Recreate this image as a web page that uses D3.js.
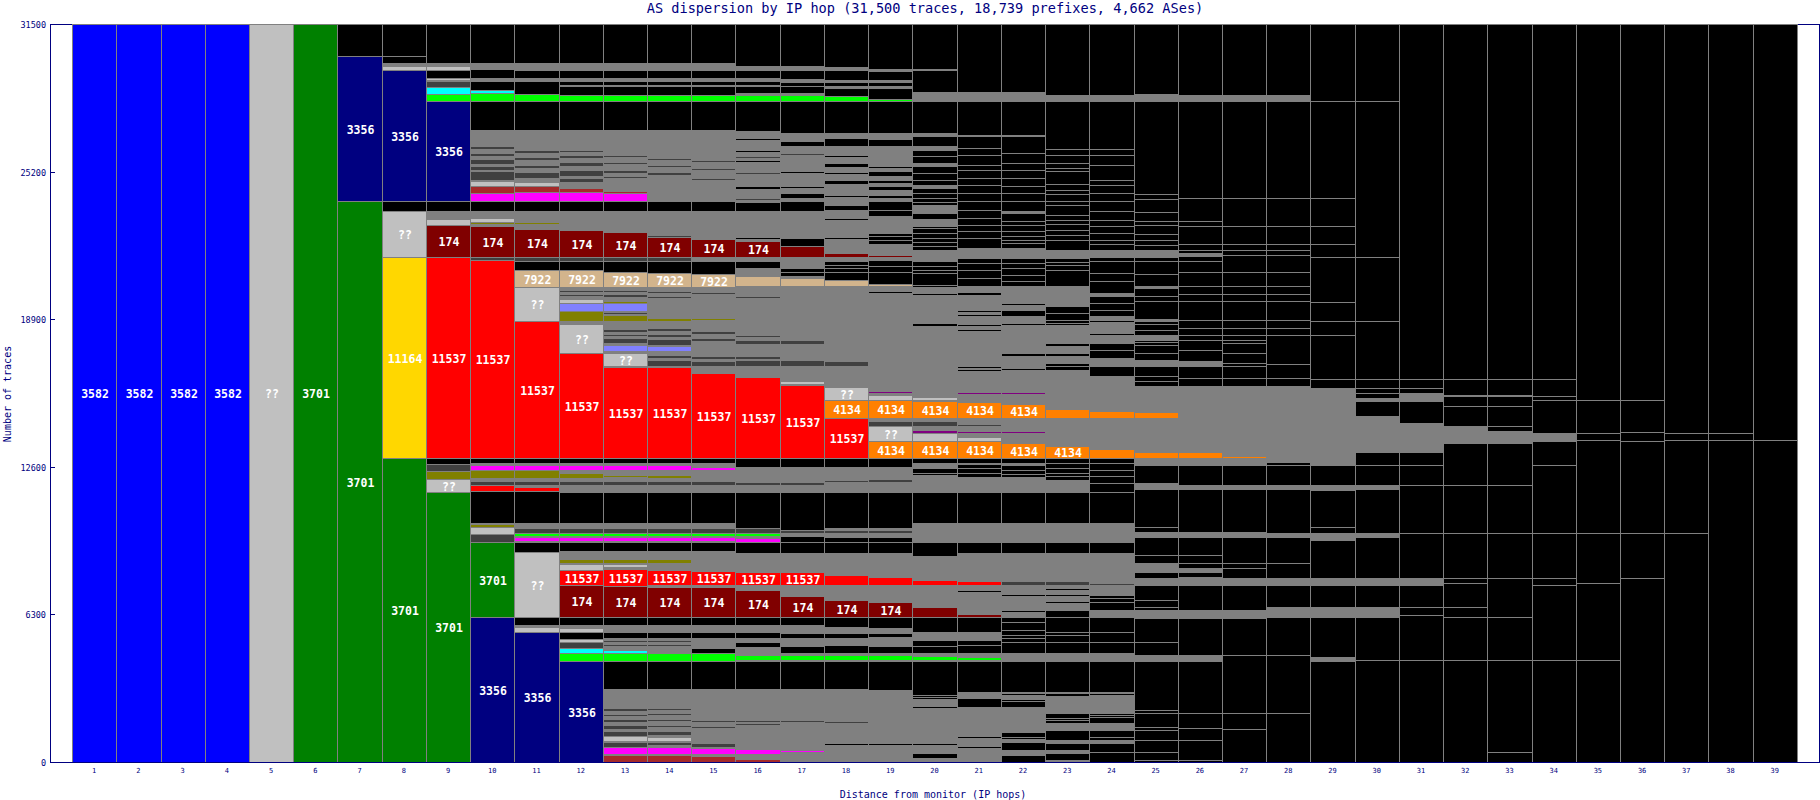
<!DOCTYPE html>
<html><head><meta charset="utf-8">
<script src="https://cdn.jsdelivr.net/npm/d3@7"></script>
<style>body{margin:0;background:#fff}svg{display:block}</style>
</head><body>
<svg id="c" width="1820" height="800"></svg>
<script>
const chartTitle = "AS dispersion by IP hop (31,500 traces, 18,739 prefixes, 4,662 ASes)";
const xTitle = "Distance from monitor (IP hops)";
const yTitle = "Number of traces";
const yTicks = [0, 6300, 12600, 18900, 25200, 31500];
const hopNumbers = d3.range(1, 40);

// each hop: segments from top to bottom, [cumulative count at segment top, AS key, label]
const hop1 = [[31500,'B','3582']];
const hop2 = [[31500,'B','3582']];
const hop3 = [[31500,'B','3582']];
const hop4 = [[31500,'B','3582']];
const hop5 = [[31500,'L','??']];
const hop6 = [[31500,'G','3701']];
const hop7 = [[31500,'K'],[30132,'N','3356'],[23960,'G','3701']];
const hop8 = [[31500,'K'],[30153,'K'],[29842,'Z'],[29696,'L'],[29525,'N','3356'],[23960,'K'],[23503,'L','??'],[21556,'Y','11164'],[12971,'G','3701']];
const hop9 = [[31500,'K'],[29842,'Z'],[29696,'L'],[29555,'K'],[29201,'L'],[29098,'Z'],[29056,'D'],[28800,'C'],[28530,'E'],[28201,'N','3356'],[23960,'K'],[23533,'Z'],[23192,'L'],[22905,'M','174'],[21556,'R','11537'],[12971,'K'],[12728,'D'],[12442,'V'],[12087,'L','??'],[11545,'G','3701']];
const hop10 = [[31500,'K'],[29842,'Z'],[29585,'K'],[29201,'Z'],[29056,'K'],[28688,'C'],[28560,'E'],[28201,'K'],[26993,'Z'],[26279,'D'],[26182,'Z'],[25998,'D'],[25852,'Z'],[25724,'D'],[25528,'Z'],[25455,'D'],[25284,'Z'],[25242,'D'],[24857,'Z'],[24815,'L'],[24601,'A'],[24289,'P'],[23960,'K'],[23503,'Z'],[23234,'L'],[23034,'V'],[22948,'Z'],[22863,'M','174'],[21556,'D'],[21411,'R','11537'],[12971,'K'],[12757,'Z'],[12685,'P'],[12471,'V'],[12117,'Z'],[12014,'D'],[11831,'R'],[11587,'K'],[10195,'Z'],[10152,'V'],[10050,'L'],[9738,'D'],[9409,'G','3701'],[6170,'N','3356']];
const hop11 = [[31500,'K'],[29842,'Z'],[29555,'K'],[29201,'Z'],[29056,'K'],[28530,'E'],[28201,'K'],[26993,'Z'],[26139,'D'],[26010,'Z'],[25840,'D'],[25711,'Z'],[25498,'D'],[25370,'Z'],[25199,'D'],[24943,'Z'],[24742,'L'],[24601,'A'],[24315,'P'],[23960,'K'],[23533,'Z'],[23034,'V'],[22948,'Z'],[22764,'M','174'],[21556,'D'],[21368,'K'],[20983,'T','7922'],[20257,'L','??'],[18805,'R','11537'],[12971,'K'],[12757,'Z'],[12685,'P'],[12471,'V'],[12117,'Z'],[12014,'D'],[11831,'Z'],[11733,'R'],[11587,'K'],[10195,'Z'],[10007,'D'],[9768,'E'],[9665,'Z'],[9623,'P'],[9452,'Z'],[9409,'K'],[8982,'L','??'],[6170,'K'],[5851,'Z'],[5753,'L'],[5565,'N','3356']];
const hop12 = [[31500,'K'],[29842,'Z'],[29555,'K'],[29201,'Z'],[29056,'K'],[28915,'Z'],[28842,'K'],[28488,'E'],[28201,'K'],[26993,'Z'],[26139,'D'],[26053,'Z'],[25925,'D'],[25797,'Z'],[25626,'D'],[25455,'Z'],[25284,'D'],[25028,'Z'],[24943,'D'],[24772,'Z'],[24503,'A'],[24315,'P'],[23960,'K'],[23533,'Z'],[23008,'V'],[22948,'Z'],[22722,'M','174'],[21556,'D'],[21368,'K'],[20983,'T','7922'],[20257,'Z'],[20160,'D'],[20074,'Z'],[19988,'D'],[19903,'Z'],[19775,'L'],[19591,'I'],[19232,'V'],[18835,'Z'],[18707,'L','??'],[17468,'R','11537'],[12971,'K'],[12757,'Z'],[12685,'P'],[12471,'Z'],[12356,'V'],[12117,'Z'],[12002,'D'],[11831,'Z'],[11545,'K'],[10195,'Z'],[10007,'D'],[9768,'E'],[9665,'Z'],[9623,'P'],[9452,'Z'],[9409,'K'],[9012,'Z'],[8670,'V'],[8487,'Z'],[8457,'L'],[8213,'R','11537'],[7547,'M','174'],[6170,'K'],[5851,'Z'],[5736,'L'],[5565,'K'],[5253,'L'],[5138,'D'],[4882,'C'],[4643,'E'],[4327,'N','3356']];
const hop13 = [[31500,'K'],[29842,'Z'],[29555,'K'],[29201,'Z'],[29056,'K'],[28915,'Z'],[28842,'K'],[28488,'E'],[28201,'K'],[26993,'Z'],[25925,'D'],[25810,'Z'],[25626,'D'],[25541,'Z'],[25284,'D'],[25156,'Z'],[25028,'D'],[24943,'Z'],[24387,'A'],[24289,'P'],[23960,'K'],[23533,'Z'],[23008,'V'],[22948,'Z'],[22636,'M','174'],[21556,'D'],[21368,'K'],[20898,'T','7922'],[20257,'Z'],[20160,'D'],[20074,'Z'],[19988,'D'],[19860,'Z'],[19659,'V'],[19591,'I'],[19262,'Z'],[19207,'D'],[19121,'Z'],[19062,'V'],[18835,'Z'],[18480,'D'],[18365,'Z'],[18280,'D'],[18194,'Z'],[18109,'D'],[17895,'Z'],[17797,'I'],[17524,'Z'],[17438,'L','??'],[16913,'Z'],[16870,'R','11537'],[12971,'K'],[12757,'Z'],[12685,'P'],[12471,'Z'],[12258,'V'],[12160,'Z'],[12002,'D'],[11831,'Z'],[11545,'K'],[10195,'Z'],[10007,'D'],[9768,'E'],[9665,'Z'],[9623,'P'],[9452,'Z'],[9409,'K'],[9012,'Z'],[8670,'V'],[8487,'Z'],[8457,'L'],[8341,'Z'],[8230,'R','11537'],[7530,'M','174'],[6170,'K'],[5851,'Z'],[5565,'K'],[5283,'Z'],[5211,'D'],[5125,'Z'],[5040,'D'],[4954,'Z'],[4784,'C'],[4668,'Z'],[4643,'E'],[4327,'K'],[3118,'Z'],[2294,'D'],[2178,'Z'],[2050,'D'],[1965,'Z'],[1837,'D'],[1708,'Z'],[1580,'D'],[1409,'Z'],[1324,'D'],[1110,'L'],[910,'Z'],[867,'D'],[653,'Z'],[628,'P'],[342,'Z'],[299,'A']];
const hop14 = [[31500,'K'],[29842,'Z'],[29555,'K'],[29201,'Z'],[29056,'K'],[28915,'Z'],[28842,'K'],[28488,'E'],[28201,'K'],[26993,'Z'],[25797,'D'],[25711,'Z'],[25498,'D'],[25412,'Z'],[25199,'D'],[25071,'Z'],[24144,'P'],[24101,'Z'],[23960,'K'],[23533,'Z'],[23008,'V'],[22948,'Z'],[22508,'D'],[22423,'M','174'],[21556,'D'],[21368,'K'],[20872,'T','7922'],[20257,'Z'],[20117,'D'],[20031,'Z'],[19903,'D'],[19817,'Z'],[18950,'V'],[18835,'Z'],[18523,'D'],[18408,'Z'],[18280,'D'],[18152,'Z'],[18066,'D'],[17810,'Z'],[17738,'I'],[17524,'Z'],[17383,'D'],[17255,'Z'],[17169,'D'],[16913,'Z'],[16870,'R','11537'],[12971,'K'],[12757,'Z'],[12685,'P'],[12471,'Z'],[12258,'V'],[12117,'Z'],[12002,'D'],[11831,'Z'],[11545,'K'],[10195,'Z'],[10007,'D'],[9768,'E'],[9665,'Z'],[9623,'P'],[9452,'Z'],[9409,'K'],[9012,'Z'],[8670,'V'],[8487,'Z'],[8200,'R','11537'],[7560,'Z'],[7487,'M','174'],[6170,'K'],[5851,'Z'],[5565,'K'],[5283,'Z'],[5211,'D'],[5125,'Z'],[5040,'D'],[4954,'Z'],[4643,'E'],[4327,'K'],[3118,'Z'],[2294,'D'],[2221,'Z'],[2093,'D'],[2007,'Z'],[1837,'D'],[1751,'Z'],[1580,'D'],[1495,'Z'],[1324,'D'],[1153,'Z'],[1055,'L'],[910,'Z'],[867,'D'],[726,'Z'],[628,'P'],[342,'Z'],[299,'A']];
const hop15 = [[31500,'K'],[29842,'Z'],[29555,'K'],[29201,'Z'],[29056,'K'],[28915,'Z'],[28842,'K'],[28475,'E'],[28201,'K'],[26993,'Z'],[25711,'D'],[25626,'Z'],[25370,'D'],[25284,'Z'],[24943,'D'],[24857,'Z'],[23960,'K'],[23533,'Z'],[22324,'M','174'],[21556,'Z'],[21368,'K'],[20842,'T','7922'],[20257,'Z'],[20074,'D'],[19988,'Z'],[18950,'V'],[18878,'Z'],[18378,'D'],[18280,'Z'],[18109,'D'],[17981,'Z'],[17340,'D'],[17212,'Z'],[17127,'D'],[16883,'Z'],[16601,'R','11537'],[12971,'K'],[12757,'Z'],[12587,'P'],[12471,'Z'],[12002,'D'],[11831,'Z'],[11545,'K'],[10195,'Z'],[10007,'D'],[9768,'E'],[9665,'Z'],[9623,'P'],[9452,'Z'],[9409,'K'],[9012,'Z'],[8158,'R','11537'],[7560,'Z'],[7461,'M','174'],[6170,'K'],[5851,'Z'],[5565,'K'],[5283,'Z'],[4869,'K'],[4643,'E'],[4327,'K'],[3118,'Z'],[1794,'D'],[1708,'Z'],[1538,'D'],[1452,'Z'],[940,'L'],[897,'Z'],[799,'D'],[653,'Z'],[585,'P'],[342,'Z'],[269,'A']];
const hop16 = [[31500,'K'],[29696,'Z'],[29525,'K'],[29201,'Z'],[29056,'K'],[28915,'Z'],[28842,'K'],[28560,'Z'],[28475,'E'],[28218,'K'],[26920,'Z'],[26651,'K'],[26565,'Z'],[26139,'K'],[26053,'Z'],[25883,'D'],[25797,'Z'],[25711,'K'],[25626,'Z'],[25178,'D'],[25093,'Z'],[24601,'K'],[24473,'Z'],[24088,'D'],[24003,'Z'],[23918,'K'],[23533,'Z'],[22401,'K'],[22316,'Z'],[22222,'M','174'],[21556,'Z'],[21368,'K'],[21086,'Z'],[20728,'T'],[20300,'Z'],[19873,'D'],[19815,'Z'],[19134,'D'],[19091,'Z'],[18237,'D'],[18152,'Z'],[18024,'D'],[17853,'Z'],[17310,'D'],[17212,'Z'],[17169,'D'],[16913,'Z'],[16486,'L'],[16414,'R','11537'],[12971,'K'],[12612,'Z'],[11972,'D'],[11831,'Z'],[11545,'K'],[9981,'D'],[9768,'E'],[9652,'Z'],[9554,'P'],[9409,'K'],[8939,'Z'],[8563,'V'],[8521,'Z'],[8128,'R','11537'],[7560,'Z'],[7346,'M','174'],[6170,'K'],[5851,'Z'],[5565,'K'],[5283,'Z'],[5138,'K'],[4924,'Z'],[4570,'E'],[4356,'Z'],[4327,'K'],[3118,'Z'],[2294,'D'],[2242,'Z'],[2093,'D'],[2050,'Z'],[1794,'D'],[1708,'Z'],[1644,'D'],[1580,'Z'],[1239,'D'],[1175,'Z'],[555,'P'],[342,'Z'],[115,'A']];
const hop17 = [[31500,'K'],[29696,'Z'],[29525,'K'],[29171,'Z'],[29030,'K'],[28842,'K'],[28560,'Z'],[28475,'E'],[28218,'K'],[26852,'Z'],[26493,'K'],[26309,'Z'],[25998,'D'],[25925,'Z'],[25212,'K'],[25143,'Z'],[24571,'K'],[24486,'Z'],[24289,'K'],[24076,'Z'],[23931,'K'],[23503,'Z'],[22367,'K'],[22009,'M'],[21556,'Z'],[21086,'K'],[20898,'K'],[20728,'Z'],[20659,'T'],[20300,'Z'],[19121,'D'],[19079,'Z'],[18194,'D'],[18139,'Z'],[18024,'D'],[17853,'Z'],[17140,'D'],[16913,'Z'],[16243,'L'],[16144,'Z'],[16102,'R','11537'],[12971,'K'],[12612,'Z'],[11972,'D'],[11831,'Z'],[11545,'K'],[9909,'D'],[9793,'Z'],[9695,'E'],[9652,'K'],[9409,'K'],[8939,'Z'],[8542,'V'],[8499,'Z'],[8128,'R','11537'],[7560,'Z'],[7090,'M','174'],[6170,'K'],[5851,'Z'],[5522,'K'],[5283,'Z'],[4954,'K'],[4643,'Z'],[4570,'E'],[4356,'Z'],[4327,'K'],[3118,'Z'],[2093,'D'],[2050,'Z'],[1794,'D'],[1721,'Z'],[1239,'D'],[1196,'Z'],[491,'P'],[440,'Z']];
const hop18 = [[31500,'K'],[29670,'K'],[29628,'Z'],[29525,'K'],[29128,'Z'],[29030,'K'],[28842,'Z'],[28774,'K'],[28415,'E'],[28218,'K'],[26852,'Z'],[26638,'K'],[26279,'Z'],[25925,'K'],[25840,'Z'],[25583,'K'],[25412,'Z'],[25199,'K'],[25113,'Z'],[24857,'K'],[24686,'Z'],[24217,'K'],[24131,'Z'],[23789,'K'],[23576,'Z'],[23234,'K'],[23149,'Z'],[22401,'K'],[22316,'Z'],[21727,'M'],[21556,'Z'],[21368,'K'],[21227,'K'],[21086,'K'],[20928,'K'],[20586,'T'],[20300,'Z'],[20074,'K'],[20031,'Z'],[19134,'D'],[19091,'Z'],[17097,'D'],[16913,'Z'],[16003,'L','??'],[15431,'O','4134'],[14679,'R','11537'],[12971,'K'],[12612,'Z'],[12044,'D'],[11972,'Z'],[11545,'K'],[9981,'Z'],[9909,'D'],[9793,'Z'],[9695,'E'],[9665,'Z'],[9623,'K'],[9409,'K'],[8939,'Z'],[7987,'R'],[7560,'Z'],[6919,'M','174'],[6170,'K'],[5753,'Z'],[5522,'K'],[5283,'Z'],[4984,'K'],[4643,'Z'],[4570,'E'],[4356,'Z'],[4327,'K'],[3118,'Z'],[2563,'K'],[2507,'Z'],[1730,'D'],[1666,'Z'],[1239,'D'],[1175,'Z'],[790,'K'],[726,'Z'],[598,'K'],[534,'Z']];
const hop19 = [[31500,'K'],[29585,'Z'],[29513,'K'],[29128,'Z'],[29013,'K'],[28872,'Z'],[28774,'K'],[28317,'E'],[28218,'K'],[26852,'Z'],[26596,'K'],[26279,'Z'],[25425,'K'],[25357,'Z'],[25212,'K'],[24998,'Z'],[24857,'K'],[24716,'Z'],[24571,'K'],[24430,'Z'],[24217,'K'],[24076,'Z'],[23931,'K'],[23576,'K'],[23320,'Z'],[22764,'K'],[22700,'Z'],[22594,'K'],[22436,'K'],[22295,'K'],[22124,'Z'],[21624,'M'],[21556,'Z'],[21440,'K'],[21184,'K'],[20928,'K'],[20403,'T'],[20300,'Z'],[20117,'K'],[20031,'Z'],[16969,'D'],[16926,'Z'],[15845,'U'],[15747,'Z'],[15675,'L'],[15431,'O','4134'],[14679,'Z'],[14534,'D'],[14351,'Z'],[14321,'L','??'],[13710,'Z'],[13680,'O','4134'],[12971,'K'],[12612,'Z'],[12343,'K'],[12279,'Z'],[12066,'D'],[11972,'Z'],[11545,'K'],[9981,'Z'],[9909,'D'],[9793,'Z'],[9623,'K'],[9409,'K'],[8939,'Z'],[7914,'R'],[7560,'Z'],[6834,'M','174'],[6170,'K'],[5723,'Z'],[5522,'K'],[5352,'Z'],[4954,'K'],[4643,'Z'],[4570,'E'],[4356,'Z'],[4327,'K'],[3075,'Z'],[2563,'K'],[2507,'Z'],[2370,'K'],[2328,'Z'],[1239,'K'],[1175,'Z'],[790,'K'],[726,'Z'],[427,'K'],[363,'Z']];
const hop20 = [[31500,'K'],[29585,'Z'],[29525,'K'],[28586,'Z'],[28201,'K'],[26852,'Z'],[26707,'K'],[26279,'Z'],[26139,'K'],[25852,'K'],[25570,'Z'],[25425,'K'],[25143,'K'],[24857,'K'],[24644,'Z'],[24503,'K'],[24289,'K'],[24076,'K'],[23918,'K'],[23789,'Z'],[23435,'K'],[23179,'Z'],[22863,'K'],[22794,'K'],[22581,'K'],[22367,'K'],[22180,'K'],[22009,'K'],[21868,'Z'],[21368,'K'],[21154,'K'],[21013,'K'],[20872,'K'],[20373,'K'],[20257,'Z'],[20031,'K'],[19946,'Z'],[19177,'K'],[19134,'Z'],[18737,'K'],[18622,'Z'],[16700,'K'],[16635,'Z'],[15888,'U'],[15816,'Z'],[15675,'U'],[15602,'Z'],[15576,'L'],[15461,'Z'],[15388,'O','4134'],[14679,'Z'],[14534,'D'],[14351,'Z'],[14150,'U'],[14039,'L'],[13710,'Z'],[13680,'O','4134'],[12971,'K'],[12757,'Z'],[12544,'K'],[12343,'K'],[12258,'Z'],[11545,'K'],[10195,'Z'],[9409,'K'],[8798,'Z'],[7773,'R'],[7560,'Z'],[6633,'M'],[6170,'K'],[5565,'Z'],[5211,'K'],[4954,'K'],[4643,'Z'],[4540,'E'],[4356,'Z'],[4327,'K'],[2862,'K'],[2776,'K'],[2691,'Z'],[2392,'K'],[2306,'Z'],[1935,'K'],[1879,'Z'],[1239,'K'],[1175,'Z'],[867,'K'],[811,'K'],[726,'Z'],[363,'K'],[171,'Z']];
const hop21 = [[31500,'K'],[28586,'Z'],[28201,'K'],[26779,'Z'],[26707,'K'],[26211,'K'],[25925,'K'],[25498,'K'],[25284,'K'],[24930,'K'],[24644,'K'],[24289,'K'],[23931,'K'],[23576,'K'],[23222,'K'],[22935,'K'],[22649,'K'],[22367,'K'],[21940,'Z'],[21513,'K'],[21312,'K'],[21013,'K'],[20672,'K'],[20300,'Z'],[20074,'K'],[19946,'Z'],[19305,'K'],[19220,'Z'],[19113,'K'],[19049,'Z'],[18686,'K'],[18622,'Z'],[18472,'K'],[18408,'Z'],[16913,'K'],[16828,'Z'],[16764,'K'],[16700,'Z'],[15773,'U'],[15717,'Z'],[15632,'U'],[15576,'Z'],[15346,'O','4134'],[14679,'Z'],[14436,'D'],[14351,'Z'],[14107,'U'],[14039,'Z'],[13966,'U'],[13894,'Z'],[13851,'L'],[13710,'Z'],[13680,'O','4134'],[12971,'K'],[12757,'Z'],[12715,'K'],[12557,'K'],[12343,'K'],[12185,'Z'],[11545,'K'],[10195,'Z'],[9409,'K'],[8914,'Z'],[7743,'R'],[7560,'Z'],[7346,'K'],[7274,'Z'],[7060,'K'],[6992,'Z'],[6846,'K'],[6791,'Z'],[6633,'K'],[6577,'Z'],[6321,'M'],[6170,'K'],[5565,'Z'],[5211,'K'],[4984,'K'],[4643,'Z'],[4497,'E'],[4356,'Z'],[4327,'K'],[3003,'Z'],[2721,'K'],[2362,'Z'],[2106,'K'],[2050,'Z'],[1239,'K'],[1196,'Z'],[1098,'K'],[1038,'Z'],[824,'K'],[769,'Z'],[671,'K'],[611,'Z']];
const hop22 = [[31500,'K'],[28586,'Z'],[28231,'K'],[26779,'Z'],[26707,'K'],[25998,'K'],[25570,'K'],[25284,'K'],[24930,'K'],[24571,'K'],[24289,'K'],[23931,'K'],[23503,'Z'],[23435,'K'],[23076,'K'],[22935,'K'],[22649,'K'],[22436,'K'],[22295,'K'],[22154,'K'],[21940,'Z'],[21513,'K'],[21312,'K'],[21086,'K'],[20800,'K'],[20514,'K'],[20300,'Z'],[19591,'K'],[19518,'Z'],[19305,'K'],[19019,'Z'],[18878,'K'],[18814,'Z'],[18737,'K'],[18664,'Z'],[17767,'K'],[17703,'Z'],[17456,'K'],[17310,'Z'],[16956,'K'],[16892,'Z'],[16815,'K'],[16742,'Z'],[15773,'U'],[15717,'Z'],[15632,'U'],[15576,'Z'],[15290,'O','4134'],[14679,'Z'],[14393,'D'],[14321,'Z'],[14107,'U'],[14039,'Z'],[13838,'U'],[13782,'Z'],[13612,'O','4134'],[12971,'K'],[12757,'Z'],[12685,'K'],[12471,'K'],[12300,'K'],[12185,'Z'],[11545,'K'],[10195,'Z'],[9409,'K'],[8914,'Z'],[7743,'D'],[7560,'Z'],[7432,'K'],[7367,'Z'],[7154,'K'],[7090,'Z'],[6876,'K'],[6812,'Z'],[6492,'K'],[6419,'Z'],[6236,'M'],[6170,'K'],[5992,'K'],[5638,'K'],[5424,'K'],[5283,'K'],[5138,'K'],[4643,'Z'],[4399,'E'],[4356,'Z'],[4327,'K'],[3003,'Z'],[2947,'K'],[2862,'Z'],[2691,'K'],[2618,'K'],[2362,'Z'],[1294,'K'],[1081,'Z'],[1055,'K'],[982,'Z'],[867,'K'],[513,'Z'],[299,'K']];
const hop23 = [[31500,'K'],[28488,'Z'],[28201,'K'],[26168,'K'],[25925,'K'],[25583,'K'],[25370,'K'],[25212,'K'],[24673,'K'],[24430,'K'],[24245,'K'],[23931,'K'],[23789,'K'],[23362,'K'],[23149,'K'],[22965,'K'],[22722,'K'],[22508,'K'],[22295,'K'],[21868,'Z'],[21513,'K'],[21355,'K'],[21227,'K'],[21013,'K'],[20300,'Z'],[19446,'K'],[19177,'K'],[18878,'K'],[18737,'K'],[18664,'Z'],[17883,'K'],[17738,'Z'],[17456,'K'],[17310,'Z'],[17029,'K'],[16883,'K'],[16742,'Z'],[15653,'U'],[15611,'Z'],[15512,'U'],[15470,'Z'],[15064,'O'],[14679,'Z'],[13988,'U'],[13945,'Z'],[13804,'U'],[13762,'Z'],[13496,'O','4134'],[12971,'K'],[12757,'K'],[12557,'K'],[12343,'K'],[12215,'K'],[12044,'Z'],[11545,'K'],[10195,'Z'],[9409,'K'],[8914,'Z'],[7743,'D'],[7560,'Z'],[7432,'K'],[7346,'Z'],[7154,'K'],[7090,'Z'],[6876,'K'],[6791,'Z'],[6492,'K'],[6170,'K'],[5565,'K'],[5424,'K'],[5138,'K'],[4643,'Z'],[4327,'K'],[3003,'Z'],[2947,'K'],[2819,'Z'],[2080,'K'],[1879,'K'],[1772,'K'],[1666,'Z'],[1367,'K'],[940,'Z'],[824,'K'],[513,'Z'],[372,'K'],[85,'Z']];
const hop24 = [[31500,'K'],[28488,'Z'],[28201,'K'],[26168,'K'],[25925,'K'],[25498,'K'],[24857,'K'],[24644,'K'],[24289,'K'],[23931,'K'],[23503,'K'],[23149,'K'],[22863,'K'],[22581,'K'],[22295,'K'],[22124,'K'],[21868,'Z'],[21556,'K'],[21368,'K'],[20872,'K'],[20514,'K'],[20018,'Z'],[19873,'K'],[19591,'K'],[19305,'K'],[19019,'Z'],[18878,'K'],[18793,'Z'],[18310,'K'],[18237,'Z'],[17883,'K'],[17597,'K'],[17242,'Z'],[16883,'K'],[16486,'Z'],[15653,'U'],[15611,'Z'],[14961,'O'],[14679,'Z'],[13945,'U'],[13902,'Z'],[13774,'U'],[13731,'Z'],[13355,'O'],[12971,'K'],[12757,'K'],[12471,'K'],[12215,'K'],[11916,'K'],[11545,'K'],[10195,'Z'],[9409,'K'],[8914,'Z'],[7658,'D'],[7560,'Z'],[7133,'K'],[7004,'K'],[6834,'K'],[6492,'Z'],[6170,'K'],[5565,'K'],[5138,'K'],[4643,'Z'],[4327,'K'],[3003,'Z'],[2926,'K'],[2862,'Z'],[2080,'K'],[2007,'K'],[1922,'K'],[1666,'Z'],[1367,'K'],[1068,'K'],[940,'Z'],[824,'K'],[406,'K']];
const hop25 = [[31500,'K'],[28530,'Z'],[28201,'K'],[24259,'K'],[24046,'K'],[23478,'K'],[23106,'K'],[22905,'K'],[22538,'K'],[22295,'K'],[22082,'K'],[21868,'Z'],[21556,'K'],[21368,'K'],[20842,'K'],[20300,'Z'],[20232,'K'],[19873,'K'],[19659,'K'],[18921,'Z'],[18805,'K'],[18707,'K'],[18451,'K'],[18237,'Z'],[18024,'K'],[17908,'K'],[17810,'K'],[17456,'K'],[17169,'Z'],[16883,'K'],[16456,'K'],[16243,'K'],[16029,'Z'],[14919,'O'],[14679,'Z'],[13774,'U'],[13731,'Z'],[13253,'O'],[12971,'Z'],[12685,'K'],[11903,'Z'],[11647,'K'],[10050,'K'],[9836,'Z'],[9623,'K'],[8841,'K'],[8487,'Z'],[8128,'K'],[7846,'Z'],[7560,'K'],[6919,'K'],[6633,'K'],[6492,'Z'],[6137,'K'],[5138,'K'],[4570,'Z'],[4327,'K'],[2221,'K'],[2080,'K'],[1508,'K'],[1367,'K'],[940,'K'],[440,'K'],[85,'K']];
const hop26 = [[31500,'K'],[28488,'Z'],[28201,'K'],[24076,'K'],[23106,'K'],[22863,'K'],[22111,'K'],[21868,'K'],[21727,'Z'],[21581,'K'],[21368,'K'],[20915,'K'],[20300,'K'],[19988,'K'],[19659,'K'],[18878,'K'],[18523,'K'],[18237,'K'],[18024,'K'],[17597,'K'],[17097,'Z'],[16883,'K'],[16388,'K'],[16029,'Z'],[14748,'O'],[14705,'Z'],[13253,'O'],[12971,'Z'],[12685,'K'],[11831,'Z'],[11647,'K'],[9836,'Z'],[9623,'K'],[8841,'K'],[8487,'K'],[8273,'Z'],[8128,'K'],[7914,'Z'],[7560,'K'],[6492,'Z'],[6137,'K'],[4570,'Z'],[4327,'K'],[2080,'K'],[1439,'K'],[940,'K'],[85,'K']];
const hop27 = [[31500,'K'],[28488,'Z'],[28201,'K'],[24076,'K'],[22863,'K'],[22111,'K'],[21868,'K'],[21654,'K'],[20915,'K'],[20300,'K'],[19988,'K'],[19659,'K'],[18848,'K'],[18523,'K'],[18237,'K'],[18024,'K'],[17883,'K'],[17456,'K'],[17029,'K'],[16883,'K'],[16388,'K'],[16029,'Z'],[13040,'O'],[12971,'Z'],[12685,'K'],[11831,'Z'],[11647,'K'],[9836,'Z'],[9623,'K'],[8487,'K'],[8273,'K'],[7846,'Z'],[7560,'K'],[6492,'Z'],[6137,'K'],[4570,'K'],[2080,'K'],[1397,'K']];
const hop28 = [[31500,'K'],[28488,'Z'],[28201,'K'],[24076,'K'],[22863,'K'],[22111,'K'],[21868,'K'],[21654,'K'],[20915,'K'],[20300,'K'],[19988,'K'],[19659,'K'],[18848,'K'],[18523,'K'],[18237,'K'],[16998,'K'],[16388,'K'],[16029,'Z'],[12826,'K'],[12685,'K'],[11831,'Z'],[11647,'K'],[9768,'Z'],[9623,'K'],[8487,'K'],[7846,'Z'],[7560,'K'],[6633,'Z'],[6206,'K'],[4570,'K'],[2080,'K']];
const hop29 = [[31500,'K'],[28201,'K'],[24076,'K'],[22863,'K'],[22111,'K'],[21556,'K'],[19634,'K'],[18805,'K'],[18237,'K'],[16345,'K'],[15961,'Z'],[12685,'K'],[11831,'Z'],[11617,'K'],[10050,'K'],[9768,'Z'],[9481,'K'],[7846,'Z'],[7560,'K'],[6633,'Z'],[6206,'K'],[4497,'Z'],[4327,'K']];
const hop30 = [[31500,'K'],[28201,'K'],[21556,'K'],[18835,'K'],[16345,'K'],[15961,'K'],[15747,'K'],[15532,'Z'],[15388,'K'],[14748,'Z'],[13253,'K'],[12685,'K'],[11831,'Z'],[11647,'K'],[9768,'Z'],[9623,'K'],[7846,'Z'],[7560,'K'],[6633,'Z'],[6206,'K'],[4356,'K']];
const hop31 = [[31500,'K'],[16345,'K'],[15961,'K'],[15747,'Z'],[15388,'K'],[14466,'Z'],[13253,'K'],[12685,'K'],[11831,'K'],[9768,'K'],[7846,'Z'],[7560,'K'],[6633,'K'],[6278,'K'],[4356,'K']];
const hop32 = [[31500,'K'],[16345,'K'],[15675,'K'],[15603,'K'],[15175,'K'],[14321,'Z'],[13612,'K'],[11831,'K'],[9768,'K'],[7846,'K'],[7632,'K'],[6633,'K'],[6206,'K'],[4356,'K']];
const hop33 = [[31500,'K'],[16345,'K'],[15675,'K'],[15603,'K'],[15175,'K'],[14321,'K'],[14107,'Z'],[13612,'K'],[11831,'K'],[9768,'K'],[7846,'K'],[6206,'K'],[4356,'K'],[440,'K']];
const hop34 = [[31500,'K'],[16345,'K'],[15603,'K'],[15461,'K'],[14039,'Z'],[13680,'K'],[12685,'K'],[9768,'K'],[7846,'K'],[7560,'K'],[4356,'K']];
const hop35 = [[31500,'K'],[15461,'K'],[14039,'K'],[13753,'K'],[9768,'K'],[7632,'K'],[4356,'K']];
const hop36 = [[31500,'K'],[15461,'K'],[14065,'K'],[13722,'K'],[9768,'K'],[7846,'K']];
const hop37 = [[31500,'K'],[14039,'K'],[13753,'K'],[9768,'K']];
const hop38 = [[31500,'K'],[14039,'K'],[13753,'K']];
const hop39 = [[31500,'K'],[13753,'K']];

const hops = [hop1,hop2,hop3,hop4,hop5,hop6,hop7,hop8,hop9,hop10,hop11,hop12,hop13,hop14,hop15,hop16,hop17,hop18,hop19,hop20,
  hop21,hop22,hop23,hop24,hop25,hop26,hop27,hop28,hop29,hop30,hop31,hop32,hop33,hop34,hop35,hop36,hop37,hop38,hop39];

const palette = {K:'#000000',Z:'#808080',D:'#404040',L:'#c0c0c0',B:'#0000ff',G:'#008000',N:'#000080',
  R:'#ff0000',Y:'#ffd700',M:'#800000',T:'#d2b48c',O:'#ff8000',C:'#00ffff',E:'#00ff00',P:'#ff00ff',
  A:'#a52a2a',V:'#808000',I:'#8080ff',U:'#800080'};

const navy = '#000080', edge = '#808080';
const mono = "'DejaVu Sans Mono', 'Liberation Mono', monospace";
const svg = d3.select('#c');
const x = d3.scaleLinear().domain([0, 40]).range([50, 1819]);
const y = d3.scaleLinear().domain([0, 31500]).range([762, 24]);

// frame top/right
svg.append('line').attr('x1',50).attr('x2',1819.5).attr('y1',24.5).attr('y2',24.5).attr('stroke',navy);
svg.append('line').attr('x1',1819.5).attr('x2',1819.5).attr('y1',24).attr('y2',762.5).attr('stroke',navy);

const gBars = svg.append('g').attr('shape-rendering','crispEdges');
hops.forEach((segs, i) => {
  const hop = hopNumbers[i];
  const x0 = Math.round(x(hop - 0.5)), x1 = Math.round(x(hop + 0.5));
  const g = gBars.append('g');
  const rows = segs.map((s, j) => {
    const top = s[0], bottom = j + 1 < segs.length ? segs[j + 1][0] : 0;
    return {yt: Math.round(y(top)), yb: Math.round(y(bottom)), key: s[1], label: s[2]};
  });
  rows.forEach(r => {
    const h = r.yb - r.yt;
    if (h > 0) {
      g.append('rect').attr('x', x0 + 0.5).attr('y', r.yt + 0.5)
        .attr('width', x1 - x0).attr('height', h)
        .attr('fill', palette[r.key]).attr('stroke', edge).attr('stroke-width', 1);
    } else {
      g.append('line').attr('x1', x0).attr('x2', x1 + 1).attr('y1', r.yt + 0.5).attr('y2', r.yt + 0.5)
        .attr('stroke', edge);
    }
  });
  rows.filter(r => r.label).forEach(r => {
    g.append('text').attr('x', (x0 + x1) / 2 + 1).attr('y', (r.yt + r.yb) / 2 + 1)
      .attr('text-anchor', 'middle').attr('dominant-baseline', 'central')
      .attr('fill', '#ffffff').attr('font-family', mono).attr('font-weight', 'bold')
      .attr('font-size', '11.5px').text(r.label);
  });
});

// axes
const gAx = svg.append('g').attr('shape-rendering','crispEdges');
gAx.append('line').attr('x1',50.5).attr('x2',50.5).attr('y1',24).attr('y2',763).attr('stroke',navy);
gAx.append('line').attr('x1',50).attr('x2',1820).attr('y1',762.5).attr('y2',762.5).attr('stroke',navy);
yTicks.forEach(t => {
  const yy = Math.round(y(t));
  gAx.append('line').attr('x1',50).attr('x2',55).attr('y1',yy+0.5).attr('y2',yy+0.5).attr('stroke',navy);
  svg.append('text').attr('x',46).attr('y',yy+0.5).attr('text-anchor','end').attr('dominant-baseline','central')
    .attr('fill',navy).attr('font-family',mono).attr('font-size','8.5px').text(t);
});
hopNumbers.forEach(h => {
  svg.append('text').attr('x', x(h)).attr('y', 770.5).attr('text-anchor','middle').attr('dominant-baseline','central')
    .attr('fill',navy).attr('font-family',mono).attr('font-size','7px').text(h);
});

svg.append('text').attr('x',925).attr('y',8).attr('text-anchor','middle').attr('dominant-baseline','central')
  .attr('fill',navy).attr('font-family',mono).attr('font-size','13.6px').text(chartTitle);
svg.append('text').attr('x',933).attr('y',794).attr('text-anchor','middle').attr('dominant-baseline','central')
  .attr('fill',navy).attr('font-family',mono).attr('font-size','10px').text(xTitle);
svg.append('text').attr('transform','translate(7.5,394) rotate(-90)').attr('text-anchor','middle').attr('dominant-baseline','central')
  .attr('fill',navy).attr('font-family',mono).attr('font-size','10px').text(yTitle);
</script>
</body></html>
